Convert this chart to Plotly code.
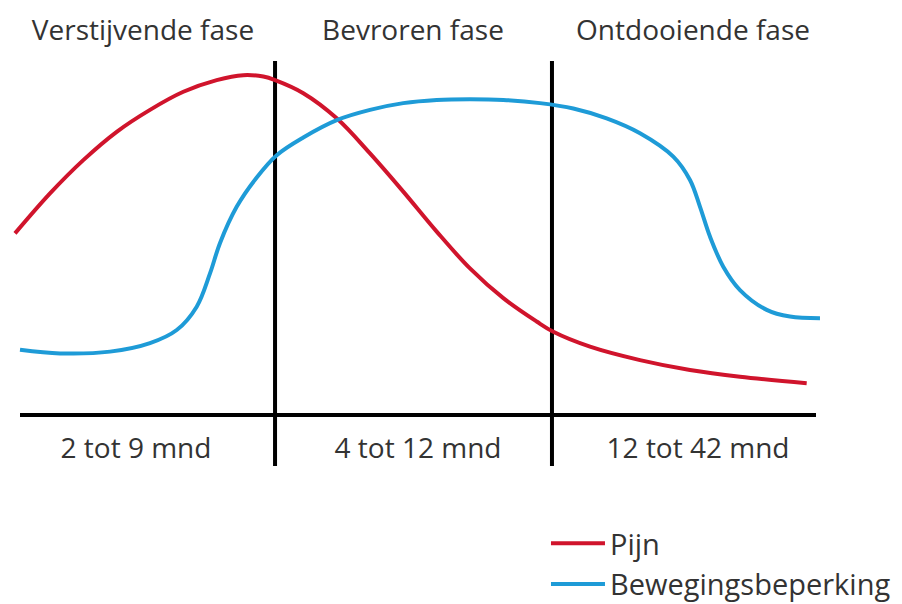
import plotly.graph_objects as go

# Relative position along the timeline (0-100) and intensity (0-100)
pijn_x = [-0.63, 3.77, 7.95, 12.15, 16.33, 20.52, 24.71, 28.05, 30.57, 32.04, 35.59, 39.79, 43.97,
          48.15, 52.35, 56.53, 60.72, 64.91, 67.0, 71.61, 77.89, 84.17, 90.45, 98.83]
pijn_y = [51.3, 62.6, 72.0, 80.0, 86.2, 91.3, 94.6, 96.0, 95.6, 94.6, 90.9, 83.8, 73.9,
          63.1, 51.8, 41.4, 33.0, 26.4, 23.5, 19.3, 15.5, 12.7, 10.8, 9.0]

beperking_x = [0.0, 5.03, 11.31, 16.33, 19.69, 22.2, 23.87, 25.13, 27.22, 29.74, 32.25, 35.59, 39.79,
               43.97, 48.15, 52.35, 56.53, 60.72, 65.33, 69.51, 73.7, 77.89, 82.07, 84.17, 85.43,
               86.68, 88.35, 90.45, 93.81, 96.73, 100.5]
beperking_y = [18.4, 17.4, 17.9, 20.3, 24.0, 30.6, 40.0, 48.6, 58.8, 67.1, 73.4, 78.4, 83.3,
               86.2, 88.1, 89.0, 89.2, 89.0, 88.1, 86.6, 83.8, 79.6, 73.0, 66.4, 58.8,
               50.4, 41.9, 35.3, 29.7, 27.8, 27.3]

fase_grenzen = [32.04, 66.83]
fase_namen = ["Verstijvende fase", "Bevroren fase", "Ontdooiende fase"]
fase_namen_pos = [15.45, 49.37, 84.55]
fase_duur = ["2 tot 9 mnd", "4 tot 12 mnd", "12 tot 42 mnd"]
fase_duur_pos = [14.57, 50.0, 85.18]

RED = "#d0142c"
BLUE = "#1e9bd7"
TXT = "#333333"
FONT = "Open Sans"
FS = 28

X_RANGE = [-2.5126, 110.804]
Y_RANGE = [-53.39, 117.23]


def ypos(v):
    return (v - Y_RANGE[0]) / (Y_RANGE[1] - Y_RANGE[0])


fig = go.Figure()

# time axis line
fig.add_trace(go.Scatter(x=[0, 100], y=[0, 0], mode="lines",
                         line=dict(color="black", width=4),
                         showlegend=False, hoverinfo="skip"))
# phase boundary lines
for gx in fase_grenzen:
    fig.add_trace(go.Scatter(x=[gx, gx], y=[-14.4, 100], mode="lines",
                             line=dict(color="black", width=4),
                             showlegend=False, hoverinfo="skip"))

fig.add_trace(go.Scatter(x=pijn_x, y=pijn_y, mode="lines", name="Pijn",
                         line=dict(color=RED, width=4, shape="spline", smoothing=1.0),
                         legendgroup="a"))
fig.add_trace(go.Scatter(x=beperking_x, y=beperking_y, mode="lines", name="Bewegingsbeperking",
                         line=dict(color=BLUE, width=4, shape="spline", smoothing=1.0),
                         legendgroup="b"))

# invisible trace for top axis
fig.add_trace(go.Scatter(x=[0, 100], y=[None, None], xaxis="x2", showlegend=False,
                         hoverinfo="skip", mode="lines"))

fig.update_layout(
    width=902, height=604,
    margin=dict(l=0, r=0, t=0, b=0, autoexpand=False),
    paper_bgcolor="white", plot_bgcolor="white",
    font=dict(family=FONT, size=FS, color=TXT),
    xaxis=dict(range=X_RANGE, domain=[0, 1], anchor="free", position=ypos(0),
               showgrid=False, zeroline=False, showline=False, automargin=False,
               tickvals=fase_duur_pos, ticktext=fase_duur, ticks="",
               ticklabelstandoff=14, tickfont=dict(size=FS, color=TXT, family=FONT)),
    xaxis2=dict(range=X_RANGE, overlaying="x", side="top", anchor="free", position=ypos(100),
                showgrid=False, zeroline=False, showline=False, automargin=False,
                tickvals=fase_namen_pos, ticktext=fase_namen,
                ticks="", ticklabelstandoff=15, tickfont=dict(size=FS, color=TXT, family=FONT)),
    yaxis=dict(range=Y_RANGE, domain=[0, 1], visible=False),
    legend=dict(x=0.6053, y=0.1424, xanchor="left", yanchor="top",
                font=dict(size=29, color=TXT, family=FONT),
                tracegroupgap=0, itemwidth=54, bgcolor="rgba(0,0,0,0)"),
    showlegend=True,
)

fig.write_html("out.html", config={"displayModeBar": False},
               post_script="document.body.style.margin='0';")
